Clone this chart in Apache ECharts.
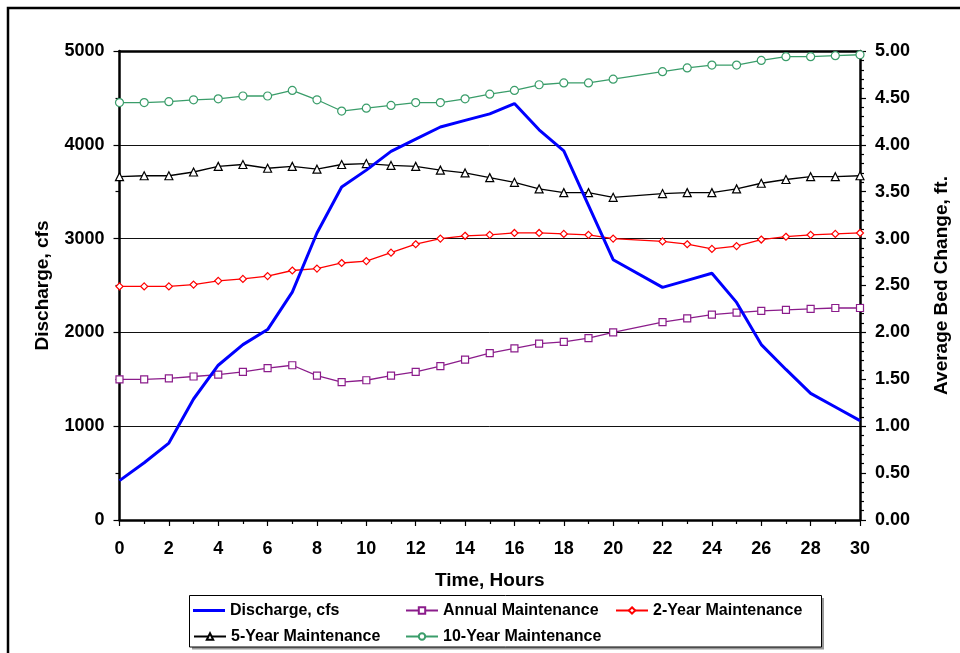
<!DOCTYPE html>
<html><head><meta charset="utf-8">
<script src="https://cdn.jsdelivr.net/npm/echarts@6/dist/echarts.min.js"></script>
<style>html,body{margin:0;padding:0;background:#fff}#c{width:960px;height:653px}</style>
</head><body><div id="c"></div>
<script>
// ---- data ----
const hours = [0,1,2,3,4,5,6,7,8,9,10,11,12,13,14,15,16,17,18,19,20,22,23,24,25,26,27,28,29,30];
const discharge = [420,610,820,1290,1650,1870,2030,2430,3060,3550,3730,3930,4060,4190,4260,4330,4440,4160,3935,3355,2775,2480,2555,2630,2320,1870,1605,1350,1205,1060];
const annual = [1.50,1.50,1.51,1.53,1.55,1.58,1.62,1.65,1.54,1.47,1.49,1.54,1.58,1.64,1.71,1.78,1.83,1.88,1.90,1.94,2.00,2.11,2.15,2.19,2.21,2.23,2.24,2.25,2.26,2.26];
const twoYear = [2.49,2.49,2.49,2.51,2.55,2.57,2.60,2.66,2.68,2.74,2.76,2.85,2.94,3.00,3.03,3.04,3.06,3.06,3.05,3.04,3.00,2.97,2.94,2.89,2.92,2.99,3.02,3.04,3.05,3.06];
const fiveYear = [3.66,3.67,3.67,3.71,3.77,3.79,3.75,3.77,3.74,3.79,3.80,3.78,3.77,3.73,3.70,3.65,3.60,3.53,3.49,3.49,3.44,3.48,3.49,3.49,3.53,3.59,3.63,3.66,3.66,3.67];
const tenYear = [4.45,4.45,4.46,4.48,4.49,4.52,4.52,4.58,4.48,4.36,4.39,4.42,4.45,4.45,4.49,4.54,4.58,4.64,4.66,4.66,4.70,4.78,4.82,4.85,4.85,4.90,4.94,4.94,4.95,4.96];
const seriesNames = ['Discharge, cfs','Annual Maintenance','2-Year Maintenance','5-Year Maintenance','10-Year Maintenance'];
const xTitle = 'Time, Hours';
const yLeftTitle = 'Discharge, cfs';
const yRightTitle = 'Average Bed Change, ft.';

// ---- build ----
const pairs = vals => hours.map((h, i) => [h, vals[i]]);
const FONT = 'Liberation Sans, Arial, sans-serif';
const lbl = {color:'#000', fontFamily:FONT, fontWeight:'bold', fontSize:18};
const ttl = {color:'#000', fontFamily:FONT, fontWeight:'bold', fontSize:19};

function markerSeries(name, vals, color, symbol, size) {
  return {
    name, type:'line', xAxisIndex:0, yAxisIndex:1, data:pairs(vals),
    symbol, symbolSize:size, showSymbol:true,
    lineStyle:{color, width:1.3},
    itemStyle:{color:'#fff', borderColor:color, borderWidth:1.2},
    emphasis:{disabled:true}, z:2, animation:false
  };
}

const legendPos = [
  {left:193, top:602.5}, {left:405, top:602.5}, {left:615, top:602.5},
  {left:193, top:628.5}, {left:405, top:628.5}
];

const legendTextStyle = {color:'#000', fontFamily:FONT, fontWeight:'bold', fontSize:16};
const option = {
  animation:false,
  grid:{left:119.5, right:100, top:51, bottom:133},
  legend: seriesNames.map((n, i) => (i === 0 ? {
    data:[n], left:legendPos[i].left, top:legendPos[i].top, padding:0,
    icon:'rect', itemWidth:32, itemHeight:3, selectedMode:false,
    itemStyle:{color:'#0000ff', borderWidth:0},
    textStyle:legendTextStyle
  } : {
    data:[n], left:legendPos[i].left, top:legendPos[i].top, padding:0,
    itemWidth:32, itemHeight:8, selectedMode:false,
    textStyle:legendTextStyle
  })),
  xAxis:[{
    type:'value', min:0, max:30, interval:2, position:'bottom',
    axisLine:{onZero:false, lineStyle:{color:'#000', width:2.5}},
    axisTick:{length:6, lineStyle:{color:'#000', width:1.2}},
    minorTick:{show:true, splitNumber:2, length:4, lineStyle:{color:'#000', width:1.2}},
    axisLabel:{...lbl, margin:20},
    splitLine:{show:false},
    name:xTitle, nameLocation:'middle', nameGap:51, nameTextStyle:ttl
  },{
    type:'value', min:0, max:30, position:'top',
    axisLine:{onZero:false, lineStyle:{color:'#000', width:2.5}},
    axisTick:{show:false}, axisLabel:{show:false}, splitLine:{show:false}
  }],
  yAxis:[{
    type:'value', min:0, max:5000, interval:1000, position:'left',
    axisLine:{show:true, onZero:false, lineStyle:{color:'#000', width:2.5}},
    axisTick:{show:true, length:6, lineStyle:{color:'#000', width:1.2}},
    minorTick:{show:true, splitNumber:2, length:4, lineStyle:{color:'#000', width:1.2}},
    axisLabel:{...lbl, margin:15, formatter:v => String(v)},
    splitLine:{show:true, lineStyle:{color:'#111', width:1}},
    name:yLeftTitle, nameLocation:'middle', nameGap:67, nameTextStyle:ttl
  },{
    type:'value', min:0, max:5, interval:0.5, position:'right',
    axisLine:{show:true, onZero:false, lineStyle:{color:'#000', width:2.5}},
    axisTick:{show:true, length:6, lineStyle:{color:'#000', width:1.2}},
    minorTick:{show:true, splitNumber:5, length:4, lineStyle:{color:'#000', width:1.2}},
    axisLabel:{...lbl, margin:15, formatter:v => v.toFixed(2)},
    splitLine:{show:false},
    name:yRightTitle, nameLocation:'middle', nameGap:72, nameRotate:90, nameTextStyle:ttl
  }],
  series:[
    {
      name:seriesNames[0], type:'line', xAxisIndex:0, yAxisIndex:0, data:pairs(discharge),
      showSymbol:false, symbol:'none', lineStyle:{color:'#0000ff', width:3},
      itemStyle:{color:'#0000ff'}, z:5, emphasis:{disabled:true}
    },
    markerSeries(seriesNames[1], annual, '#8b1c8b', 'rect', 7),
    markerSeries(seriesNames[2], twoYear, '#ff0000', 'diamond', 7),
    markerSeries(seriesNames[3], fiveYear, '#000000', 'triangle', 8),
    markerSeries(seriesNames[4], tenYear, '#3a9d6a', 'circle', 8)
  ],
  graphic:[
    {type:'rect', shape:{x:8, y:8, width:1000, height:1000}, style:{fill:null, stroke:'#000', lineWidth:2.5}, silent:true},
    {type:'rect', shape:{x:192, y:598, width:632, height:51.5}, style:{fill:'#999'}, silent:true, z:-2},
    {type:'rect', shape:{x:189.5, y:595.5, width:632, height:51.5}, style:{fill:'#fff', stroke:'#000', lineWidth:1}, silent:true, z:-1}
  ]
};
const chart = echarts.init(document.getElementById('c'), null, {renderer:'canvas'});
chart.setOption(option);
</script></body></html>
